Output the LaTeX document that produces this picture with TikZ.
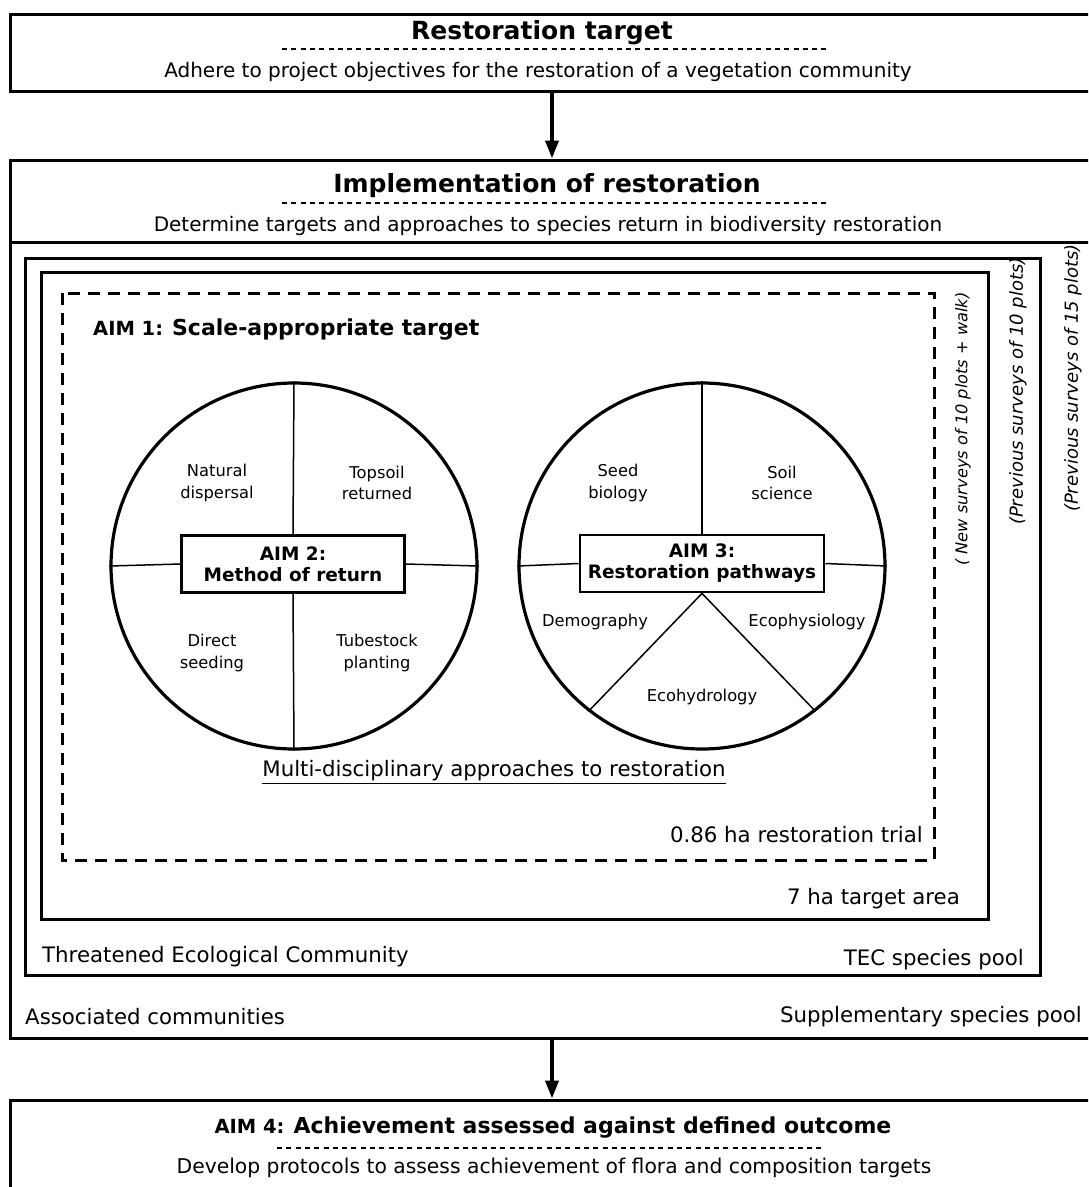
\documentclass[tikz,border=0pt]{standalone}
\usepackage{fontspec}
\setmainfont{DejaVu Sans}
\usetikzlibrary{arrows.meta}

\begin{document}
\begin{tikzpicture}[x=1pt,y=-1pt,
  frame/.style={draw,line width=3pt,rectangle,inner sep=0pt},
  wheel/.style={draw,line width=3.2pt,circle,minimum size=366pt,inner sep=0pt},
  aimbox/.style={draw,line width=2.8pt,inner sep=0pt,align=center,font=\fontsize{18.5}{21}\selectfont\bfseries},
  lab/.style={inner sep=0pt,align=center,font=\fontsize{16.3}{21.5}\selectfont},
  txt/.style={inner sep=0pt,font=\fontsize{21.3}{24}\selectfont},
  sub/.style={inner sep=0pt,font=\fontsize{20}{24}\selectfont},
  ttl/.style={inner sep=0pt,font=\fontsize{25}{30}\selectfont\bfseries},
  side/.style={inner sep=0pt,rotate=90,font=\fontsize{18}{20}\selectfont\itshape},
  rule/.style={line width=1.3pt,dash pattern=on 5pt off 4.3pt},
  >={Triangle[length=18pt,width=13pt]}]
\useasboundingbox (0,0) rectangle (1088,1187);
\clip (0,0) rectangle (1088,1187);

\node [frame,minimum width=1084pt,minimum height=77pt] (target) at (552,52.5) {};
\node [ttl] (ttarget) at (542,33) {Restoration target};
\draw [rule] (282,49) -- (828,49);
\node [sub] (starget) at (538,72) {Adhere to project objectives for the restoration of a vegetation community};

\node [frame,minimum width=1084pt,minimum height=878pt] (impl) at (552,599) {};
\draw [line width=3pt] (10,242) -- (1094,242);
\node [ttl] (timpl) at (547,186) {Implementation of restoration};
\draw [rule] (282,203) -- (830,203);
\node [sub] (simpl) at (548,226) {Determine targets and approaches to species return in biodiversity restoration};
\draw [->,line width=3.8pt] (target.south) -- (impl.north);

\draw [line width=3pt] (25,258) rectangle (1040,975);
\draw [line width=3pt] (41,272) rectangle (988,919);
\draw [line width=3pt,dash pattern=on 12pt off 8pt] (62,293) rectangle (934,860);

\node [anchor=west,inner sep=0pt] (aim1) at (93,330) {\fontsize{19.5}{22}\selectfont\bfseries AIM 1: \fontsize{22}{26}\selectfont Scale-appropriate target};

\node [wheel] (w1) at (294,566) {};
\node [aimbox,minimum width=223pt,minimum height=57pt] (aim2) at (293,564) {AIM 2:\\Method of return};
\draw [line width=1.5pt] (w1.north) -- (aim2.north);
\draw [line width=1.5pt] (aim2.south) -- (w1.south);
\draw [line width=1.5pt] (w1.west) -- (aim2.west);
\draw [line width=1.5pt] (aim2.east) -- (w1.east);
\node [lab] (natural) at (217,483) {Natural\\dispersal};
\node [lab] (topsoil) at (377,483) {Topsoil\\returned};
\node [lab] (direct) at (212,653) {Direct\\seeding};
\node [lab] (tube) at (377,653) {Tubestock\\planting};

\node [wheel] (w2) at (702,566) {};
\node [aimbox,minimum width=244pt,minimum height=57pt] (aim3) at (702,563.5) {AIM 3:\\Restoration pathways};
\draw [line width=1.5pt] (w2.north) -- (aim3.north);
\draw [line width=1.5pt] (w2.west) -- (aim3.west);
\draw [line width=1.5pt] (aim3.east) -- (w2.east);
\draw [line width=1.5pt] (aim3.south) -- (w2.232);
\draw [line width=1.5pt] (aim3.south) -- (w2.308);
\node [lab] (seed) at (618,483) {Seed\\biology};
\node [lab] (soil) at (782,483) {Soil\\science};
\node [lab] (demo) at (595,622) {Demography};
\node [lab] (ecophys) at (807,622) {Ecophysiology};
\node [lab] (ecohyd) at (702,697) {Ecohydrology};

\node [txt] (multi) at (494,772) {\underline{Multi-disciplinary approaches to restoration}};
\node [txt,anchor=east] (trial) at (923,835) {0.86 ha restoration trial};
\node [txt,anchor=east] (area) at (960,899) {7 ha target area};
\node [txt,anchor=west] (tec) at (42,957) {Threatened Ecological Community};
\node [txt,anchor=east] (tecpool) at (1024,960) {TEC species pool};
\node [txt,anchor=west] (assoc) at (25,1017) {Associated communities};
\node [txt,anchor=east] (supp) at (1082,1017) {Supplementary species pool};

\node [side,font=\fontsize{16.2}{20}\selectfont\itshape] (newsurv) at (963,429) {( New surveys of 10 plots + walk)};
\node [side] (prevten) at (1018,391) {(Previous surveys of 10 plots)};
\node [side] (prevfif) at (1073,378) {(Previous surveys of 15 plots)};

\node [frame,minimum width=1084pt,minimum height=120pt] (outcome) at (552,1160) {};
\draw [->,line width=3.8pt] (impl.south) -- (outcome.north);
\node [inner sep=0pt] (aim4) at (553,1128) {\fontsize{19.5}{22}\selectfont\bfseries AIM 4: \fontsize{22}{26}\selectfont Achievement assessed against defined outcome};
\draw [rule] (277,1148) -- (822,1148);
\node [inner sep=0pt,font=\fontsize{20.3}{24}\selectfont] (soutcome) at (554,1168) {Develop protocols to assess achievement of flora and composition targets};
\end{tikzpicture}
\end{document}
